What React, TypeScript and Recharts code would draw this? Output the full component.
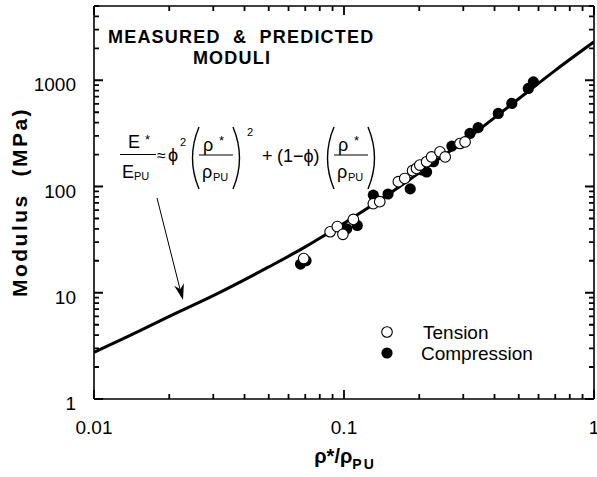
import { ComposedChart, Line, Scatter, XAxis, YAxis, ReferenceLine } from 'recharts'

// (log-log)
const TENSION_X = [0.069, 0.088, 0.094, 0.099, 0.109, 0.131, 0.139, 0.165, 0.175, 0.188, 0.195, 0.201, 0.214, 0.224, 0.242, 0.254, 0.291, 0.305]
const TENSION_Y = [21, 37.5, 42, 35.5, 49, 69, 72, 111, 119, 141, 148, 159, 171, 190, 212, 190, 254, 263]

const COMPRESSION_X = [0.067, 0.0705, 0.1025, 0.113, 0.131, 0.15, 0.184, 0.205, 0.214, 0.228, 0.27, 0.319, 0.344, 0.414, 0.469, 0.546, 0.572]
const COMPRESSION_Y = [18.6, 20, 40, 43, 83, 85, 95, 143, 137, 171, 240, 316, 358, 487, 605, 837, 966]

// predicted modulus curve
const CURVE_X = [0.01, 0.015, 0.02, 0.03, 0.05, 0.07, 0.1, 0.15, 0.2, 0.3, 0.5, 0.7, 1]
const CURVE_Y = [2.75, 4.3, 6.0, 9.4, 17.5, 27, 45, 84, 135, 265, 670, 1240, 2300]

const X_TICKS = [0.01, 0.02, 0.03, 0.04, 0.05, 0.06, 0.07, 0.08, 0.09, 0.1, 0.2, 0.3, 0.4, 0.5, 0.6, 0.7, 0.8, 0.9, 1]
const Y_TICKS = [1, 2, 3, 4, 5, 6, 7, 8, 9, 10, 20, 30, 40, 50, 60, 70, 80, 90, 100, 200, 300, 400, 500, 600, 700, 800, 900, 1000, 2000, 3000, 4000, 5000]

const X_DOMAIN = [0.01, 1]
const Y_DOMAIN = [1, 5000]

const W = 597
const H = 477
const MARGIN = { top: 6, right: 3, left: 0, bottom: 0 }
const Y_AXIS_W = 94
const X_AXIS_H = 78
const FONT = '"Liberation Sans", Arial, Helvetica, sans-serif'

// plot box, same as what recharts lays out from the margins and axis sizes
const PLOT = {
  left: MARGIN.left + Y_AXIS_W,
  right: W - MARGIN.right,
  top: MARGIN.top,
  bottom: H - MARGIN.bottom - X_AXIS_H,
}
const logPos = (v: number, [a, b]: number[], p0: number, p1: number) =>
  p0 + ((Math.log10(v) - Math.log10(a)) / (Math.log10(b) - Math.log10(a))) * (p1 - p0)

const tension = TENSION_X.map((x, i) => ({ x, y: TENSION_Y[i] }))
const compression = COMPRESSION_X.map((x, i) => ({ x, y: COMPRESSION_Y[i] }))
const curve = CURVE_X.map((x, i) => ({ x, y: CURVE_Y[i] }))

const isDecade = (v: number) => Math.abs(Math.log10(v) - Math.round(Math.log10(v))) < 1e-9

function XLabel(props: any) {
  const { x, y, payload } = props
  if (!isDecade(payload.value)) return <g />
  return (
    <text x={x} y={y + 35} textAnchor="middle" fontSize={19} fontFamily={FONT} fill="#000">
      {String(payload.value)}
    </text>
  )
}

function YLabel(props: any) {
  const { x, y, payload } = props
  if (!isDecade(payload.value)) return <g />
  return (
    <text x={x - 18} y={y + 11} textAnchor="end" fontSize={19} fontFamily={FONT} fill="#000">
      {String(payload.value)}
    </text>
  )
}

const openDot = (p: any) => <circle cx={p.cx} cy={p.cy} r={5.3} fill="#fff" stroke="#000" strokeWidth={1.1} />
const filledDot = (p: any) => <circle cx={p.cx} cy={p.cy} r={5.6} fill="#000" />

// inward tick marks on all four sides
function FrameTicks() {
  const d: string[] = []
  X_TICKS.forEach((v) => {
    const len = isDecade(v) ? 9 : 5
    const x = logPos(v, X_DOMAIN, PLOT.left, PLOT.right)
    d.push(`M${x},${PLOT.bottom}V${PLOT.bottom - len}`, `M${x},${PLOT.top}V${PLOT.top + len}`)
  })
  Y_TICKS.forEach((v) => {
    const len = isDecade(v) ? 9 : 5
    const y = logPos(v, Y_DOMAIN, PLOT.bottom, PLOT.top)
    d.push(`M${PLOT.left},${y}H${PLOT.left + len}`, `M${PLOT.right},${y}H${PLOT.right - len}`)
  })
  return <path d={d.join('')} stroke="#000" strokeWidth={1.8} fill="none" />
}

function Paren({ x, top, bottom, right }: { x: number; top: number; bottom: number; right?: boolean }) {
  const mid = (top + bottom) / 2
  const d = right
    ? `M ${x} ${top} Q ${x + 13} ${mid} ${x} ${bottom}`
    : `M ${x} ${top} Q ${x - 13} ${mid} ${x} ${bottom}`
  return <path d={d} fill="none" stroke="#000" strokeWidth={1.4} />
}

function Annotations() {
  const t = { fontFamily: FONT, fill: '#000' }
  return (
    <svg width={W} height={H} style={{ position: 'absolute', left: 0, top: 0, pointerEvents: 'none' }}>
      <FrameTicks />

      {/* title */}
      <text x={108} y={43} fontSize={18} fontWeight="bold" letterSpacing={1.2} style={{ whiteSpace: 'pre' }} {...t}>
        {'MEASURED  &  PREDICTED'}
      </text>
      <text x={232} y={64} fontSize={18} fontWeight="bold" letterSpacing={1.2} textAnchor="middle" {...t}>
        MODULI
      </text>

      {/* left fraction: E star over E PU */}
      <text x={128} y={148} fontSize={18} {...t}>E</text>
      <text x={145} y={144} fontSize={13} {...t}>*</text>
      <line x1={120} x2={156} y1={154.5} y2={154.5} stroke="#000" strokeWidth={1} />
      <text x={122} y={178} fontSize={18} {...t}>E</text>
      <text x={134} y={180} fontSize={11} {...t}>PU</text>
      <text x={157} y={161} fontSize={16} {...t}>≈</text>
      <text x={168} y={161} fontSize={18} {...t}>ϕ</text>
      <text x={180} y={146} fontSize={11} {...t}>2</text>

      {/* squared density ratio */}
      <Paren x={199} top={127} bottom={189} />
      <text x={203} y={151} fontSize={18} {...t}>ρ</text>
      <text x={219} y={145} fontSize={13} {...t}>*</text>
      <line x1={199} x2={233} y1={155} y2={155} stroke="#000" strokeWidth={1} />
      <text x={202} y={178} fontSize={18} {...t}>ρ</text>
      <text x={213} y={181} fontSize={11} {...t}>PU</text>
      <Paren x={233} top={127} bottom={189} right />
      <text x={247} y={136} fontSize={11} {...t}>2</text>

      <text x={262} y={162} fontSize={18} {...t}>+</text>
      <text x={277} y={162} fontSize={18} {...t}>(1−ϕ)</text>

      {/* linear density ratio */}
      <Paren x={334} top={127} bottom={189} />
      <text x={338} y={151} fontSize={18} {...t}>ρ</text>
      <text x={354} y={145} fontSize={13} {...t}>*</text>
      <line x1={334} x2={368} y1={155} y2={155} stroke="#000" strokeWidth={1} />
      <text x={337} y={178} fontSize={18} {...t}>ρ</text>
      <text x={348} y={181} fontSize={11} {...t}>PU</text>
      <Paren x={368} top={127} bottom={189} right />

      {/* arrow to the curve */}
      <line x1={157} y1={198} x2={180} y2={289} stroke="#000" strokeWidth={1} />
      <polygon points="183,300 174.2,285.7 180.3,289.3 183.9,283.3" fill="#000" />

      {/* legend */}
      <circle cx={387} cy={332} r={5.3} fill="#fff" stroke="#000" strokeWidth={1.1} />
      <text x={423} y={339} fontSize={19} {...t}>Tension</text>
      <circle cx={387} cy={353} r={5.6} fill="#000" />
      <text x={421} y={360} fontSize={19} {...t}>Compression</text>

      {/* axis titles */}
      <text
        transform="translate(27,202) rotate(-90)"
        textAnchor="middle"
        fontSize={21}
        fontWeight="bold"
        letterSpacing={2.5}
        style={{ whiteSpace: 'pre' }}
        {...t}
      >
        {'Modulus  (MPa)'}
      </text>
      <text x={345} y={463} textAnchor="middle" fontSize={20} fontWeight="bold" {...t}>
        ρ*/ρ
        <tspan dy={6} fontSize={14} letterSpacing={2}>PU</tspan>
      </text>
    </svg>
  )
}

export default function App() {
  return (
    <div style={{ position: 'absolute', left: 0, top: 0, width: W, height: H, background: '#fff' }}>
      <ComposedChart width={W} height={H} margin={MARGIN}>
        <XAxis
          dataKey="x"
          type="number"
          scale="log"
          domain={X_DOMAIN}
          allowDataOverflow
          ticks={X_TICKS}
          interval={0}
          height={X_AXIS_H}
          tickSize={0}
          tickMargin={0}
          tickLine={false}
          axisLine={{ stroke: '#000', strokeWidth: 1.6 }}
          tick={(p: any) => <XLabel {...p} />}
        />
        <YAxis
          dataKey="y"
          type="number"
          scale="log"
          domain={Y_DOMAIN}
          allowDataOverflow
          ticks={Y_TICKS}
          interval={0}
          width={Y_AXIS_W}
          tickSize={0}
          tickMargin={0}
          tickLine={false}
          axisLine={{ stroke: '#000', strokeWidth: 1.6 }}
          tick={(p: any) => <YLabel {...p} />}
        />
        <ReferenceLine x={X_DOMAIN[1]} stroke="#000" strokeWidth={1.6} />
        <ReferenceLine y={Y_DOMAIN[1]} stroke="#000" strokeWidth={1.6} />
        <Line data={curve} dataKey="y" type="monotone" stroke="#000" strokeWidth={3} dot={false} isAnimationActive={false} />
        <Scatter data={compression} dataKey="y" shape={filledDot} isAnimationActive={false} />
        <Scatter data={tension} dataKey="y" shape={openDot} isAnimationActive={false} />
      </ComposedChart>
      <Annotations />
    </div>
  )
}
